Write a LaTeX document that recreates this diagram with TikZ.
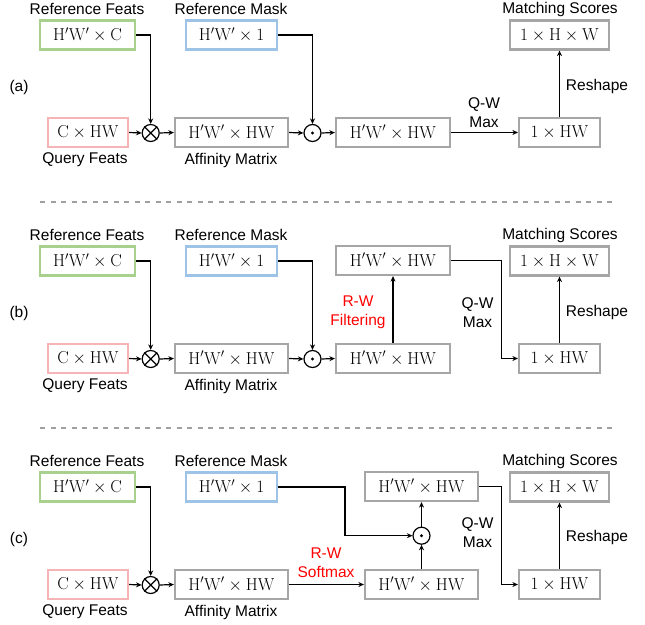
\documentclass[tikz,border=0pt]{standalone}
\usepackage[no-math]{fontspec}
\setmainfont{Liberation Sans}
\usetikzlibrary{arrows.meta}
\definecolor{cgreen}{RGB}{169,209,142}
\definecolor{cblue}{RGB}{157,195,230}
\definecolor{cpink}{RGB}{246,180,182}
\definecolor{cgray}{RGB}{166,166,166}
\definecolor{cdash}{RGB}{160,160,160}
\definecolor{cred}{RGB}{255,0,0}
\tikzset{
  box/.style={draw=cgray, line width=2.2pt, minimum height=29pt, inner sep=0pt, fill=white, font=\fontsize{16.5}{18}\selectfont},
  lbl/.style={inner sep=0pt, font=\fontsize{15.5}{19}\selectfont, align=center},
  redlbl/.style={lbl, text=cred},
  arr/.style={line width=1.2pt, -{Stealth[length=5.5pt,width=5pt]}},
  ln/.style={line width=1.2pt},
  opc/.style={circle, draw, line width=1.2pt, minimum size=17pt, inner sep=0pt},
}
\newcommand\commonpanel[3]{%
  \node[lbl] (#1lab) at (19,{87+#2}) {(#3)};
  \node[box, draw=cgreen, minimum width=95pt] (#1rf) at (87.5,{35+#2}) {$\mathrm{H'W'\times C}$};
  \node[lbl] (#1rft) at (87,{9+#2}) {Reference Feats};
  \node[box, draw=cblue, minimum width=91pt] (#1rm) at (231.5,{35+#2}) {$\mathrm{H'W'\times 1}$};
  \node[lbl] (#1rmt) at (231,{9+#2}) {Reference Mask};
  \node[box, draw=cpink, minimum width=80pt] (#1qf) at (88,{132.5+#2}) {$\mathrm{C\times HW}$};
  \node[lbl] (#1qft) at (85,{160+#2}) {Query Feats};
  \node[opc] (#1ot) at (150.7,{133+#2}) {};
  \draw[ln] (#1ot.north east) -- (#1ot.south west) (#1ot.north west) -- (#1ot.south east);
  \node[box, minimum width=113pt] (#1af) at (231.5,{132.5+#2}) {$\mathrm{H'W'\times HW}$};
  \node[lbl] (#1aft) at (231,{160+#2}) {Affinity Matrix};
  \node[box, minimum width=99pt] (#1ms) at (559.5,{35+#2}) {$\mathrm{1\times H\times W}$};
  \node[lbl] (#1mst) at (560,{9+#2}) {Matching Scores};
  \node[box, minimum width=81pt] (#1hw) at (559.5,{132.5+#2}) {$\mathrm{1\times HW}$};
  \coordinate (#1c1) at (#1ot |- #1rf);
  \draw[arr] (#1rf.east) -- (#1c1) -- (#1ot.north);
  \draw[arr] (#1qf.east) -- (#1ot.west);
  \draw[arr] (#1ot.east) -- (#1af.west);
  \draw[arr] (#1hw.north) -- (#1ms.south);
}
\begin{document}
\begin{tikzpicture}[x=1pt,y=-1pt]
\useasboundingbox (0,0) rectangle (645,624);
% dashed separators
\coordinate (s1a) at (40,202); \coordinate (s1b) at (613,202);
\coordinate (s2a) at (40,428); \coordinate (s2b) at (613,428);
\draw[cdash, line width=1.5pt, dash pattern=on 5pt off 5.5pt] (s1a) -- (s1b);
\draw[cdash, line width=1.5pt, dash pattern=on 5pt off 5.5pt] (s2a) -- (s2b);

% ---------- (a)
\commonpanel{a}{0}{a}
\node[opc] (aod) at (312.5,133) {};
\fill (aod.center) circle (1.7pt);
\node[box, minimum width=114pt] (aout) at (393,132.5) {$\mathrm{H'W'\times HW}$};
\coordinate (ac2) at (aod |- arm);
\draw[arr] (arm.east) -- (ac2) -- (aod.north);
\draw[arr] (aaf.east) -- (aod.west);
\draw[arr] (aod.east) -- (aout.west);
\draw[arr] (aout.east) -- (ahw.west);
\node[lbl] (aqw) at (484,112.5) {Q-W\\Max};
\node[lbl] (ars) at (597,86) {Reshape};

% ---------- (b)
\commonpanel{b}{226}{b}
\node[opc] (bod) at (312.5,359) {};
\fill (bod.center) circle (1.7pt);
\node[box, minimum width=114pt] (bbot) at (393,358.5) {$\mathrm{H'W'\times HW}$};
\node[box, minimum width=114pt] (btop) at (393,260.5) {$\mathrm{H'W'\times HW}$};
\coordinate (bc2) at (bod |- brm);
\draw[arr] (brm.east) -- (bc2) -- (bod.north);
\draw[arr] (baf.east) -- (bod.west);
\draw[arr] (bod.east) -- (bbot.west);
\draw[arr] (bbot.north) -- (btop.south);
\node[redlbl] (brw) at (358,312.5) {R-W\\Filtering};
\coordinate (bc3) at (501.7,260.5);
\coordinate (bc4) at (501.7,358.5);
\draw[arr] (btop.east) -- (bc3) -- (bc4) -- (bhw.west);
\node[lbl] (bqw) at (477.5,313) {Q-W\\Max};
\node[lbl] (brs) at (597,312) {Reshape};

% ---------- (c)
\commonpanel{c}{452}{c}
\node[box, minimum width=113pt] (cbot) at (421.5,584.5) {$\mathrm{H'W'\times HW}$};
\node[box, minimum width=113pt] (ctop) at (421.5,486.5) {$\mathrm{H'W'\times HW}$};
\node[opc] (cod) at (421.5,535.7) {};
\fill (cod.center) circle (1.7pt);
\draw[arr] (caf.east) -- (cbot.west);
\node[redlbl] (crw) at (326,563) {R-W\\Softmax};
\draw[arr] (cbot.north) -- (cod.south);
\draw[arr] (cod.north) -- (ctop.south);
\coordinate (cc2) at (345,487);
\coordinate (cc3) at (345,535.7);
\draw[arr] (crm.east) -- (cc2) -- (cc3) -- (cod.west);
\coordinate (cc4) at (501.7,486.5);
\coordinate (cc5) at (501.7,584.5);
\draw[arr] (ctop.east) -- (cc4) -- (cc5) -- (chw.west);
\node[lbl] (cqw) at (477.5,533) {Q-W\\Max};
\node[lbl] (crs) at (597,537) {Reshape};
\end{tikzpicture}
\end{document}
